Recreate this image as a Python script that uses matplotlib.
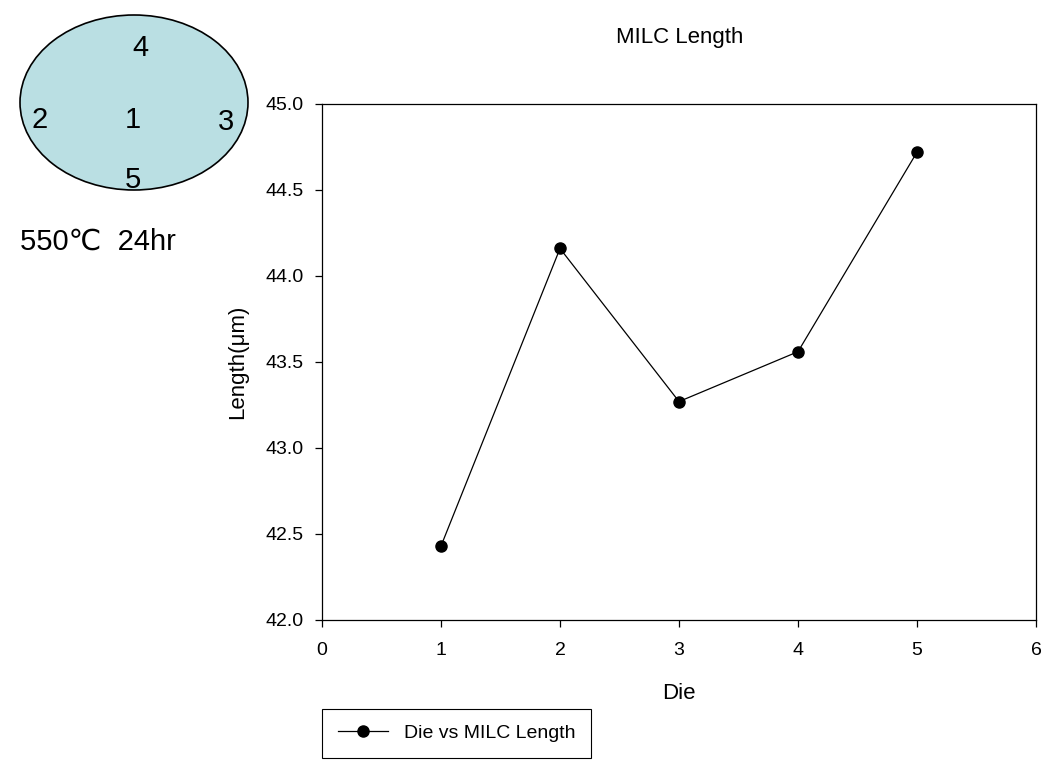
import matplotlib

matplotlib.use("Agg")
import matplotlib.pyplot as plt
from matplotlib.patches import Ellipse

plt.rcParams["font.family"] = ["Liberation Sans", "DejaVu Sans"]

die = [1, 2, 3, 4, 5]
length = [42.43, 44.16, 43.27, 43.56, 44.72]
wafer_labels = ["1", "2", "3", "4", "5"]
y_ticks = [42.0, 42.5, 43.0, 43.5, 44.0, 44.5, 45.0]
x_ticks = [0, 1, 2, 3, 4, 5, 6]

W, H = 1045, 762
fig = plt.figure(figsize=(W / 100, H / 100), dpi=100)

# wafer sketch drawn in pixel coordinates on an overlay
overlay = fig.add_axes([0, 0, 1, 1])
overlay.set_xlim(0, W)
overlay.set_ylim(H, 0)
overlay.axis("off")
overlay.add_patch(Ellipse((134, 102.5), 228, 175, facecolor="#badfe3", edgecolor="black", linewidth=1.2))
label_pos = {"1": (133, 120), "2": (40, 120), "3": (226, 122), "4": (140, 48), "5": (133, 180)}
for lab in wafer_labels:
    x, y = label_pos[lab]
    overlay.text(x, y, lab, fontsize=21, ha="center", va="center")
overlay.text(20, 242, "550\u2103  24hr", fontsize=21, ha="left", va="center")

ax = fig.add_axes([322 / W, 1 - 620 / H, (1036 - 322) / W, (620 - 104) / H])
ax.plot(die, length, color="black", linewidth=0.9, marker="o", markersize=8, label="Die vs MILC Length")
ax.set_xlim(0, 6)
ax.set_ylim(42.0, 45.0)
ax.set_xticks(x_ticks)
ax.set_yticks(y_ticks)
ax.set_yticklabels([f"{v:.1f}" for v in y_ticks])
ax.tick_params(direction="out", length=5, width=0.9, labelsize=14, top=False, right=False)
ax.tick_params(axis="x", pad=11)
ax.tick_params(axis="y", pad=8)
for s in ax.spines.values():
    s.set_linewidth(0.9)
ax.set_xlabel("Die", fontsize=16, labelpad=17)
ax.set_ylabel("Length(\u03bcm)", fontsize=16, labelpad=13)
fig.text(680 / W, 1 - 38 / H, "MILC Length", fontsize=16, ha="center", va="center")

leg = fig.legend(loc="upper left", bbox_to_anchor=(322 / W, 1 - 709 / H), fontsize=14,
                 fancybox=False, edgecolor="black", framealpha=1, borderpad=0.8,
                 handlelength=2.6, borderaxespad=0)
leg.get_frame().set_linewidth(0.8)

fig.savefig("out.png", dpi=100)
